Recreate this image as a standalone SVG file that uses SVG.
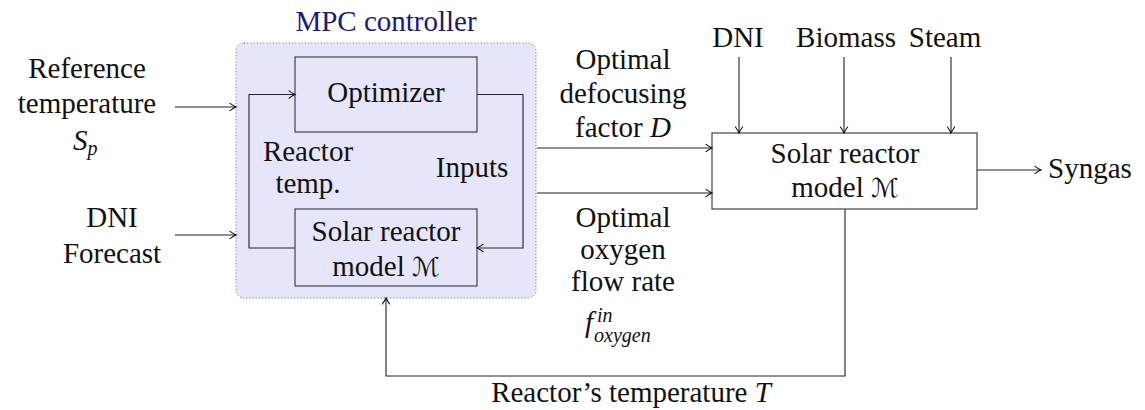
<svg xmlns="http://www.w3.org/2000/svg" width="1145" height="410" viewBox="0 0 1145 410">
<defs>
<style>
text{font-family:'Liberation Serif','Times New Roman',serif;font-size:29px;fill:#111;}
.c{text-anchor:middle;}
.i{font-style:italic;}
.s{font-size:20px;}
.cal{font-family:'DejaVu Sans',sans-serif;font-style:normal;font-size:26px;}
.box{fill:none;stroke:#333;stroke-width:1.1;}
.ln{fill:none;stroke:#222;stroke-width:1.1;marker-end:url(#ah);}
</style>
<marker id="ah" markerUnits="userSpaceOnUse" markerWidth="12" markerHeight="12" viewBox="-8 -6 10 12" refX="0" refY="0" orient="auto">
<path d="M-6,-3.6 Q-2,-0.8 0,0 Q-2,0.8 -6,3.6" fill="none" stroke="#111" stroke-width="1.1" stroke-linecap="round"/>
</marker>
</defs>
<rect width="1145" height="410" fill="#fff"/>

<g id="mpc">
<rect x="236" y="43" width="300" height="255" rx="8" fill="#e6e6fa" stroke="#666" stroke-width="1" stroke-dasharray="1 2.2"/>
<text class="c" x="386" y="31" style="fill:#1a1a80">MPC controller</text>
</g>

<g id="optimizer">
<rect class="box" x="295" y="57" width="182" height="75"/>
<text class="c" x="386" y="102">Optimizer</text>
</g>

<g id="inner-model">
<rect class="box" x="295" y="209" width="182" height="77"/>
<text class="c" x="386" y="241">Solar reactor</text>
<text class="c" x="386" y="276">model <tspan class="cal">ℳ</tspan></text>
</g>

<g id="reactor-model">
<rect class="box" x="712" y="133" width="265" height="76"/>
<text class="c" x="845" y="163">Solar reactor</text>
<text class="c" x="845" y="197">model <tspan class="cal">ℳ</tspan></text>
</g>

<g id="labels">
<text class="c" x="87" y="78">Reference</text>
<text class="c" x="87" y="113">temperature</text>
<text x="73" y="150" class="i">S<tspan class="s" dy="5">p</tspan></text>
<text class="c" x="112" y="227">DNI</text>
<text class="c" x="112" y="263">Forecast</text>
<text class="c" x="308" y="161">Reactor</text>
<text class="c" x="308" y="193">temp.</text>
<text class="c" x="472" y="177">Inputs</text>
<text class="c" x="623" y="69">Optimal</text>
<text class="c" x="623" y="103">defocusing</text>
<text class="c" x="623" y="137">factor <tspan class="i">D</tspan></text>
<text class="c" x="623" y="227">Optimal</text>
<text class="c" x="623" y="259">oxygen</text>
<text class="c" x="623" y="291">flow rate</text>
<text class="i" x="585" y="332">f<tspan class="s" x="597" y="322">in</tspan><tspan class="s" x="594" y="342">oxygen</tspan></text>
<text class="c" x="738" y="47">DNI</text>
<text class="c" x="846" y="47">Biomass</text>
<text class="c" x="945" y="47">Steam</text>
<text x="1048" y="178">Syngas</text>
<text class="c" x="631" y="402">Reactor’s temperature <tspan class="i">T</tspan></text>
</g>

<g id="connectors">
<path class="ln" d="M295,248 H249 V94.5 H295"/>
<path class="ln" d="M477,94.5 H523 V248 H477"/>
<path class="ln" d="M175,107 H236"/>
<path class="ln" d="M175,235 H236"/>
<path class="ln" d="M537,148 H712"/>
<path class="ln" d="M537,193 H712"/>
<path class="ln" d="M739,57 V133"/>
<path class="ln" d="M844,57 V133"/>
<path class="ln" d="M951,57 V133"/>
<path class="ln" d="M977,170 H1041"/>
<path class="ln" d="M845,209 V376 H386 V298"/>
</g>
</svg>
